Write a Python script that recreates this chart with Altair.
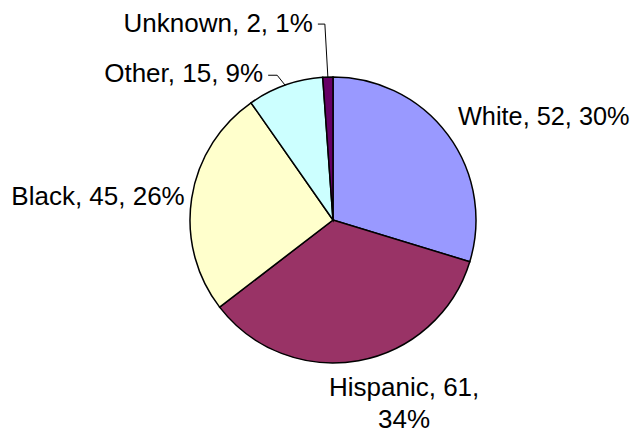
import altair as alt
import pandas as pd

# ---- data ----
categories = ["White", "Hispanic", "Black", "Other", "Unknown"]
counts = [52, 61, 45, 15, 2]
percents = [30, 34, 26, 9, 1]
colors = ["#9999FF", "#993366", "#FFFFCC", "#CCFFFF", "#660066"]

# ---- layout / style ----
W, H = 622, 425
CX, CY, R = 325, 212, 143
FONT = "Liberation Sans"
FS = 26
LINE_H = 32

layout = {
    "White":    dict(lr=158, ldx=-2, ldy=-1, align="left", fs=25.3),
    "Hispanic": dict(lr=180, ldx=39, ldy=-1, align="center", wrap=True),
    "Black":    dict(lr=150, ldx=0, ldy=8, align="right"),
    "Other":    dict(lr=R, ldx=-22, ldy=-3, align="right", leader=True, ex=-8, ey=-10, seg=9),
    "Unknown":  dict(lr=R, ldx=-15, ldy=-45, align="right", leader=True, ex=-3, ey=-53, seg=7),
}

rows = []
for i, (c, n, p) in enumerate(zip(categories, counts, percents)):
    L = layout[c]
    label = f"{c}, {n},\n{p}%" if L.get("wrap") else f"{c}, {n}, {p}%"
    rows.append(dict(
        cat=c, count=n, order=i, label=label,
        lr=L["lr"], ldx=L["ldx"], ldy=L["ldy"], align=L["align"],
        fs=L.get("fs", FS),
        leader=bool(L.get("leader", False)),
        ex=L.get("ex", 0), ey=L.get("ey", 0), seg=L.get("seg", 0),
    ))
df = pd.DataFrame(rows)
total = sum(counts)

base = (
    alt.Chart(df)
    .transform_window(cum="sum(count)", sort=[alt.SortField("order")], frame=[None, 0])
    .transform_joinaggregate(total="sum(count)")
    .transform_calculate(
        start="datum.cum - datum.count",
        ang="2*PI*(datum.cum - datum.count/2)/datum.total",
    )
    .transform_calculate(
        lx=f"{CX} + datum.lr*sin(datum.ang) + datum.ldx",
        ly=f"{CY} - datum.lr*cos(datum.ang) + datum.ldy",
        edx=f"{CX} + {R}*sin(datum.ang)",
        edy=f"{CY} - {R}*cos(datum.ang)",
    )
    .transform_calculate(
        elx="datum.edx + datum.ex",
        ely="datum.edy + datum.ey",
    )
    .transform_calculate(
        endx="datum.elx - datum.seg",
    )
)

pie = base.mark_arc(outerRadius=R, stroke="black", strokeWidth=1.5).encode(
    theta=alt.Theta("start:Q", scale=alt.Scale(domain=[0, total], nice=False)),
    theta2="cum:Q",
    color=alt.Color("cat:N", scale=alt.Scale(domain=categories, range=colors), legend=None),
    x=alt.value(CX),
    y=alt.value(CY),
)

leader1 = base.transform_filter("datum.leader").mark_rule(color="#000000", strokeWidth=1).encode(
    x=alt.X("edx:Q", scale=None), y=alt.Y("edy:Q", scale=None),
    x2="elx:Q", y2="ely:Q",
)
leader2 = base.transform_filter("datum.leader").mark_rule(color="#000000", strokeWidth=1).encode(
    x=alt.X("elx:Q", scale=None), y=alt.Y("ely:Q", scale=None),
    x2="endx:Q", y2="ely:Q",
)

def label_layer(align):
    return base.transform_filter(f"datum.align == '{align}'").mark_text(
        align=align, baseline="alphabetic", font=FONT,
        color="#000000", lineBreak="\n", lineHeight=LINE_H,
    ).encode(
        x=alt.X("lx:Q", scale=None),
        y=alt.Y("ly:Q", scale=None),
        size=alt.Size("fs:Q", scale=None, legend=None),
        text="label:N",
    )

chart = alt.layer(
    pie, leader1, leader2,
    label_layer("left"), label_layer("center"), label_layer("right"),
).properties(
    width=W, height=H, padding=0, autosize=alt.AutoSizeParams(type="none"),
    background="white",
).configure_view(stroke=None)

chart.save("out.html", embed_options={"renderer": "svg", "actions": False})
